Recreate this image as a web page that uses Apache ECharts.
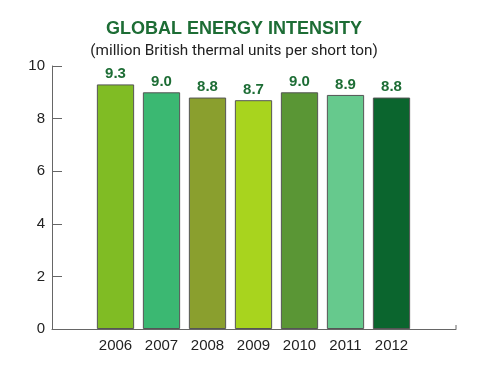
<!DOCTYPE html>
<html><head><meta charset="utf-8">
<script src="https://cdn.jsdelivr.net/npm/echarts@6/dist/echarts.min.js"></script>
<style>html,body{margin:0;padding:0;background:#fff}#c{width:500px;height:371px}</style>
</head><body><div id="c"></div>
<script>
var years = ['2006','2007','2008','2009','2010','2011','2012'];
var values = [9.3, 9.0, 8.8, 8.7, 9.0, 8.9, 8.8];
var barColors = ['#80bc24','#3bb872','#8a9f2e','#a8d41e','#5a9635','#66c98d','#0b652e'];
var yTicks = [0, 2, 4, 6, 8, 10];
var titleText = 'GLOBAL ENERGY INTENSITY';
var subtitleText = '(million British thermal units per short ton)';

var chart = echarts.init(document.getElementById('c'));
chart.setOption({
  animation: false,
  title: [{
    text: titleText, left: 229, top: 15, textAlign: 'center',
    textStyle: {color: '#1d6d35', fontFamily: 'Liberation Sans', fontWeight: 'bold', fontSize: 18}
  },{
    text: subtitleText, left: 229, top: 39, textAlign: 'center',
    textStyle: {color: '#222', fontFamily: 'Roboto', fontWeight: 'normal', fontSize: 15.3}
  }],
  grid: [
    {left: 52, right: 44, top: 66, bottom: 42},
    {left: 92.5, width: 322, top: 66, bottom: 42}
  ],
  xAxis: [
    {gridIndex: 0, type: 'category', data: years, axisLine: {lineStyle: {color: '#666'}},
     axisTick: {show: false}, axisLabel: {show: false}},
    {gridIndex: 1, type: 'category', data: years, axisLine: {show: false}, axisTick: {show: false},
     axisLabel: {color: '#222', fontFamily: 'Liberation Sans', fontSize: 15, margin: 9}}
  ],
  yAxis: [
    {gridIndex: 0, type: 'value', min: 0, max: 10, interval: 2,
     axisLine: {show: true, lineStyle: {color: '#666'}},
     axisTick: {show: true, inside: true, length: 10, lineStyle: {color: '#666'}},
     splitLine: {show: false},
     axisLabel: {color: '#222', fontFamily: 'Liberation Sans', fontSize: 15, margin: 7,
       formatter: function(v){ return yTicks.indexOf(v) >= 0 ? String(v) : ''; }}},
    {gridIndex: 1, type: 'value', min: 0, max: 10, show: false}
  ],
  series: [{
    type: 'bar', xAxisIndex: 1, yAxisIndex: 1, barCategoryGap: '19%',
    data: values.map(function(v, i){ return {value: v, itemStyle: {color: barColors[i]}}; }),
    itemStyle: {borderColor: '#555', borderWidth: 1},
    label: {show: true, position: 'top', distance: 3, color: '#1d6d35', fontFamily: 'Liberation Sans',
      fontWeight: 'bold', fontSize: 15, formatter: function(p){ return p.value.toFixed(1); }}
  }],
  graphic: [{
    type: 'line', shape: {x1: 456, y1: 329, x2: 456, y2: 325}, style: {stroke: '#666', lineWidth: 1}
  }]
});
</script></body></html>
